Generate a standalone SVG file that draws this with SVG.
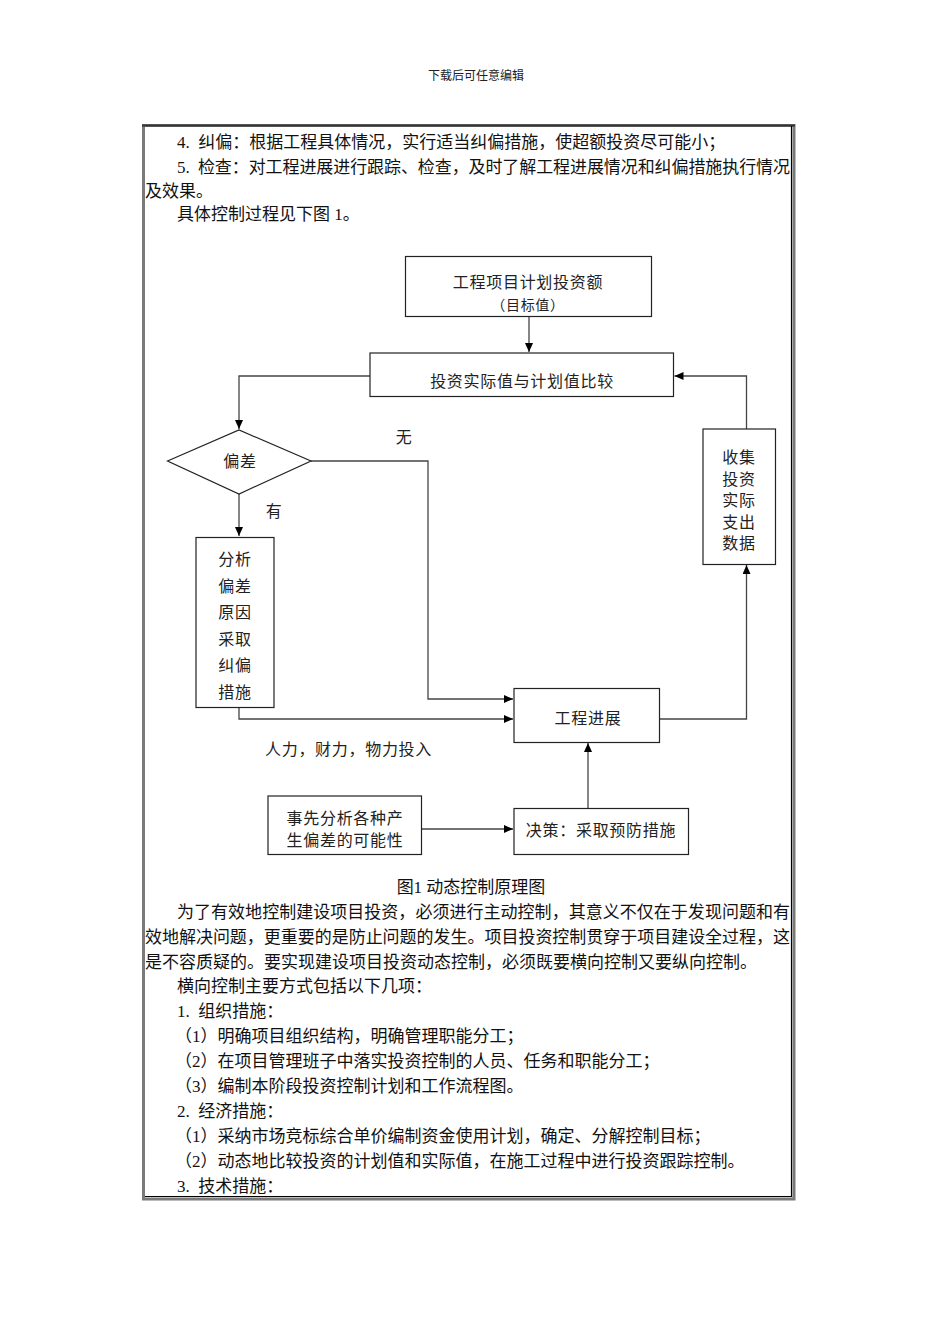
<svg xmlns="http://www.w3.org/2000/svg" width="950" height="1344" viewBox="0 0 950 1344">
<style>
.body{font-family:"Liberation Serif","Noto Sans CJK SC",serif;font-size:17px;fill:#111}
.dg{font-family:"Noto Sans CJK SC","Liberation Sans",sans-serif;font-size:16px;fill:#222;letter-spacing:0.7px}
.mid{text-anchor:middle}
.box{fill:#fff;stroke:#222;stroke-width:1.2}
.conn{fill:none;stroke:#444;stroke-width:1.3}
</style>
<defs>
<marker id="ah" markerUnits="userSpaceOnUse" markerWidth="10" markerHeight="9" refX="9" refY="4" orient="auto">
<path d="M0,0 L9,4 L0,8 z" fill="#000"/>
</marker>
</defs>
<rect width="950" height="1344" fill="#fff"/>
<text x="476" y="79.5" text-anchor="middle" style="font-family:'Noto Sans CJK SC',sans-serif;font-size:12px;fill:#222">下载后可任意编辑</text>

<g id="frame">
<rect x="143.5" y="125.5" width="650.5" height="1073.5" fill="none" stroke="#7a7a7a" stroke-width="3"/>
<line x1="142" y1="125.5" x2="795" y2="125.5" stroke="#333" stroke-width="2.2"/>
<line x1="791.5" y1="126" x2="791.5" y2="1197" stroke="#000" stroke-width="1.2"/>
<line x1="145" y1="1196.5" x2="792" y2="1196.5" stroke="#000" stroke-width="1.2"/>
</g>

<g id="text-top" class="body">
<text x="177" y="147.5">4.&#160; 纠偏：根据工程具体情况，实行适当纠偏措施，使超额投资尽可能小；</text>
<text x="177" y="172.5" textLength="613" lengthAdjust="spacing">5.&#160; 检查：对工程进展进行跟踪、检查，及时了解工程进展情况和纠偏措施执行情况</text>
<text x="145" y="197">及效果。</text>
<text x="177" y="219.5">具体控制过程见下图 1。</text>
</g>

<g id="connectors" class="conn">
<path d="M529,316 V352" marker-end="url(#ah)"/>
<path d="M370,376 H239 V429" marker-end="url(#ah)"/>
<path d="M311,461 H428 V699 H513" marker-end="url(#ah)"/>
<path d="M239,494 V536" marker-end="url(#ah)"/>
<path d="M239,707 V719 H513" marker-end="url(#ah)"/>
<path d="M659.5,719 H746.5 V565" marker-end="url(#ah)"/>
<path d="M746.5,429 V376 H674.5" marker-end="url(#ah)"/>
<path d="M421.5,829 H513" marker-end="url(#ah)"/>
<path d="M588,808 V743" marker-end="url(#ah)"/>
</g>

<g id="n-plan">
<rect class="box" x="405.5" y="256.5" width="246" height="60"/>
<text class="dg mid" x="528" y="288">工程项目计划投资额</text>
<text class="dg mid" x="528" y="309.5" style="font-size:14px">（目标值）</text>
</g>

<g id="n-compare">
<rect class="box" x="370" y="353" width="303.5" height="43.5"/>
<text class="dg mid" x="522" y="386.5">投资实际值与计划值比较</text>
</g>

<g id="n-deviation">
<polygon class="box" points="167.5,461 239,430 311,461 239,494"/>
<text class="dg mid" x="240" y="467">偏差</text>
</g>

<text class="dg mid" x="404" y="443">无</text>
<text class="dg mid" x="274" y="517">有</text>

<g id="n-analyze">
<rect class="box" x="196" y="537.5" width="78" height="170"/>
<text class="dg mid" x="235" y="565"><tspan x="235">分析</tspan><tspan x="235" dy="26.6">偏差</tspan><tspan x="235" dy="26.6">原因</tspan><tspan x="235" dy="26.6">采取</tspan><tspan x="235" dy="26.6">纠偏</tspan><tspan x="235" dy="26.6">措施</tspan></text>
</g>

<g id="n-collect">
<rect class="box" x="703" y="429" width="72.5" height="135.5"/>
<text class="dg mid" x="739" y="463"><tspan x="739">收集</tspan><tspan x="739" dy="21.5">投资</tspan><tspan x="739" dy="21.5">实际</tspan><tspan x="739" dy="21.5">支出</tspan><tspan x="739" dy="21.5">数据</tspan></text>
</g>

<g id="n-progress">
<rect class="box" x="514" y="688.5" width="145.5" height="54"/>
<text class="dg mid" x="588" y="724">工程进展</text>
</g>

<text class="dg" x="265" y="755">人力，财力，物力投入</text>

<g id="n-prior">
<rect class="box" x="268" y="796" width="153.5" height="58.5"/>
<text class="dg mid" x="345" y="823.5"><tspan x="345">事先分析各种产</tspan><tspan x="345" dy="22">生偏差的可能性</tspan></text>
</g>

<g id="n-decide">
<rect class="box" x="514" y="808.5" width="174.5" height="46"/>
<text class="dg mid" x="601" y="835.5">决策：采取预防措施</text>
</g>

<g id="text-bottom" class="body">
<text x="471" y="892.5" text-anchor="middle">图1 动态控制原理图</text>
<text x="177" y="917.5" textLength="613" lengthAdjust="spacing">为了有效地控制建设项目投资，必须进行主动控制，其意义不仅在于发现问题和有</text>
<text x="145" y="942.5" textLength="645" lengthAdjust="spacing">效地解决问题，更重要的是防止问题的发生。项目投资控制贯穿于项目建设全过程，这</text>
<text x="145" y="967.5">是不容质疑的。要实现建设项目投资动态控制，必须既要横向控制又要纵向控制。</text>
<text x="177" y="992">横向控制主要方式包括以下几项：</text>
<text x="177" y="1017">1.&#160; 组织措施：</text>
<text x="175" y="1042">（1）明确项目组织结构，明确管理职能分工；</text>
<text x="175" y="1067">（2）在项目管理班子中落实投资控制的人员、任务和职能分工；</text>
<text x="175" y="1092">（3）编制本阶段投资控制计划和工作流程图。</text>
<text x="177" y="1117">2.&#160; 经济措施：</text>
<text x="175" y="1142">（1）采纳市场竞标综合单价编制资金使用计划，确定、分解控制目标；</text>
<text x="175" y="1167">（2）动态地比较投资的计划值和实际值，在施工过程中进行投资跟踪控制。</text>
<text x="177" y="1191.5">3.&#160; 技术措施：</text>
</g>
</svg>
